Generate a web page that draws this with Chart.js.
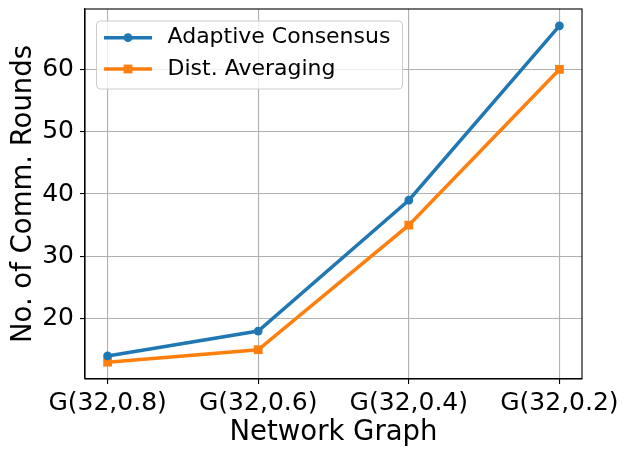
<!DOCTYPE html>
<html>
<head>
<meta charset="utf-8">
<script src="https://cdn.jsdelivr.net/npm/chart.js@4"></script>
<style>
  html, body { margin: 0; padding: 0; background: #fff; }
  #wrap { width: 627px; height: 456px; }
</style>
</head>
<body>
<div id="wrap"><canvas id="chart" width="627" height="456"></canvas></div>
<script>
const graphs = ['G(32,0.8)', 'G(32,0.6)', 'G(32,0.4)', 'G(32,0.2)']
const adaptiveConsensus = [14, 18, 39, 67]
const distAveraging = [13, 15, 35, 60]
const yTicks = [20, 30, 40, 50, 60]

const FONT = "'DejaVu Sans', sans-serif"
const BLUE = '#1f77b4'
const ORANGE = '#ff7f0e'

const toPts = arr => arr.map((v, i) => ({ x: i, y: v }))

// box round the plot + legend drawn inside the plot, matplotlib style
const framePlugin = {
  id: 'frame',
  afterDatasetsDraw(chart) {
    const { ctx, chartArea: a } = chart
    ctx.save()
    ctx.strokeStyle = '#000'
    ctx.lineWidth = 1.1
    ctx.strokeRect(a.left, a.top, a.right - a.left, a.bottom - a.top)

    // legend
    const bx = a.left + 11.5, by = a.top + 12, bw = 306, bh = 68, r = 4
    ctx.beginPath()
    ctx.roundRect(bx, by, bw, bh, r)
    ctx.fillStyle = 'rgba(255,255,255,0.8)'
    ctx.fill()
    ctx.strokeStyle = '#cccccc'
    ctx.lineWidth = 1
    ctx.stroke()

    ctx.font = '22px ' + FONT
    ctx.textBaseline = 'middle'
    chart.data.datasets.forEach((ds, i) => {
      const cy = by + 16.7 + i * 31.3
      ctx.strokeStyle = ds.borderColor
      ctx.lineWidth = 3.5
      ctx.beginPath()
      ctx.moveTo(bx + 7.5, cy)
      ctx.lineTo(bx + 55.5, cy)
      ctx.stroke()
      ctx.fillStyle = ds.borderColor
      if (ds.pointStyle === 'rect') {
        ctx.fillRect(bx + 31.5 - 4.4, cy - 4.4, 8.8, 8.8)
      } else {
        ctx.beginPath()
        ctx.arc(bx + 31.5, cy, 4.4, 0, Math.PI * 2)
        ctx.fill()
      }
      ctx.fillStyle = '#000'
      ctx.fillText(ds.label, bx + 71, cy)
    })
    ctx.restore()
  },
}

new Chart(document.getElementById('chart'), {
  type: 'line',
  data: {
    datasets: [
      {
        label: 'Adaptive Consensus', data: toPts(adaptiveConsensus),
        borderColor: BLUE, backgroundColor: BLUE, borderWidth: 3.5,
        pointStyle: 'circle', pointRadius: 4.4, pointBorderWidth: 0, pointBackgroundColor: BLUE,
      },
      {
        label: 'Dist. Averaging', data: toPts(distAveraging),
        borderColor: ORANGE, backgroundColor: ORANGE, borderWidth: 3.5,
        pointStyle: 'rect', pointRadius: 6.2, pointBorderWidth: 0, pointBackgroundColor: ORANGE,
      },
    ],
  },
  options: {
    responsive: false,
    animation: false,
    layout: { padding: { top: 9, right: 45, left: 0, bottom: 0 } },
    plugins: { legend: { display: false }, tooltip: { enabled: false } },
    elements: { line: { tension: 0 } },
    scales: {
      x: {
        type: 'linear', min: -0.15, max: 3.15,
        afterBuildTicks: s => { s.ticks = graphs.map((g, i) => ({ value: i })) },
        afterFit: s => { s.height = 77; s.paddingLeft = 0; s.paddingRight = 0 },
        ticks: { callback: v => graphs[v], color: '#000', font: { family: FONT, size: 25 }, padding: 4, maxRotation: 0, autoSkip: false },
        grid: { color: '#b0b0b0', lineWidth: 1.1, tickColor: '#000', tickLength: 5 },
        border: { color: '#000', width: 1.1 },
        title: { display: true, text: 'Network Graph', color: '#000', font: { family: FONT, size: 27.5 }, padding: { top: 0, bottom: 7 } },
      },
      y: {
        min: 10.3, max: 69.7,
        afterBuildTicks: s => { s.ticks = yTicks.map(v => ({ value: v })) },
        afterFit: s => { s.width = 85; s.paddingTop = 0; s.paddingBottom = 0 },
        ticks: { color: '#000', font: { family: FONT, size: 25 }, padding: 6 },
        grid: { color: '#b0b0b0', lineWidth: 1.1, tickColor: '#000', tickLength: 5 },
        border: { color: '#000', width: 1.1 },
        title: { display: true, text: 'No. of Comm. Rounds', color: '#000', font: { family: FONT, size: 27.5 }, padding: { top: 7, bottom: 4 } },
      },
    },
  },
  plugins: [framePlugin],
})
</script>
</body>
</html>
